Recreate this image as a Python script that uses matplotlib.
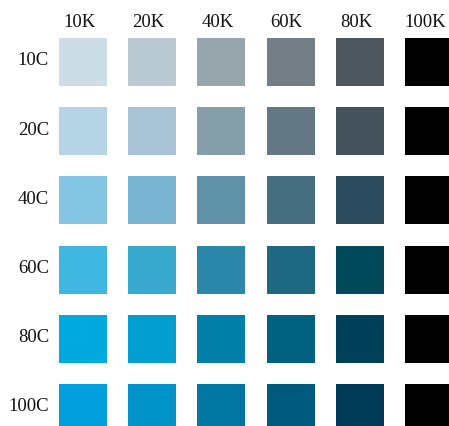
import matplotlib
matplotlib.use("Agg")
import matplotlib.pyplot as plt
from matplotlib.patches import Rectangle

col_labels = ["10K", "20K", "40K", "60K", "80K", "100K"]
row_labels = ["10C", "20C", "40C", "60C", "80C", "100C"]

colors_10C = ["#CCDDE6", "#B9CAD3", "#97A6AD", "#737E85", "#4E565E", "#000000"]
colors_20C = ["#B5D5E6", "#A7C3D4", "#869DAA", "#647883", "#44525B", "#000000"]
colors_40C = ["#83C5E3", "#78B4D1", "#5F91A9", "#466E81", "#2B4B5E", "#000000"]
colors_60C = ["#40B7E1", "#3AA9D0", "#2B88AB", "#1E6882", "#00485A", "#000000"]
colors_80C = ["#00AADF", "#009DCE", "#0080A9", "#006181", "#00415A", "#000000"]
colors_100C = ["#009FDB", "#0092C9", "#0076A3", "#005A7D", "#003A56", "#000000"]
grid_colors = [colors_10C, colors_20C, colors_40C, colors_60C, colors_80C, colors_100C]

W, H = 449, 426
fig = plt.figure(figsize=(W / 100, H / 100), dpi=100)
ax = fig.add_axes([0, 0, 1, 1])
pitch = 69.2
x0, y0 = 83, 62
ax.set_xlim(-x0 / pitch, (W - x0) / pitch)
ax.set_ylim((H - y0) / pitch, -y0 / pitch)
ax.axis("off")

size = 48 / pitch
for r, row in enumerate(grid_colors):
    for c, col in enumerate(row):
        ax.add_patch(Rectangle((c - size / 2, r - size / 2), size, size,
                               facecolor=col, edgecolor="none"))

font = dict(family=["Liberation Serif", "DejaVu Serif"], fontsize=13.5, color="#111111")
for c, lab in enumerate(col_labels):
    ax.text(c - 0.055, (27.3 - y0) / pitch, lab, ha="center", va="baseline", **font)
for r, lab in enumerate(row_labels):
    ax.text((49 - x0) / pitch, r + 0.05, lab, ha="right", va="baseline", **font)

fig.savefig("out.png", dpi=100, facecolor="white")
